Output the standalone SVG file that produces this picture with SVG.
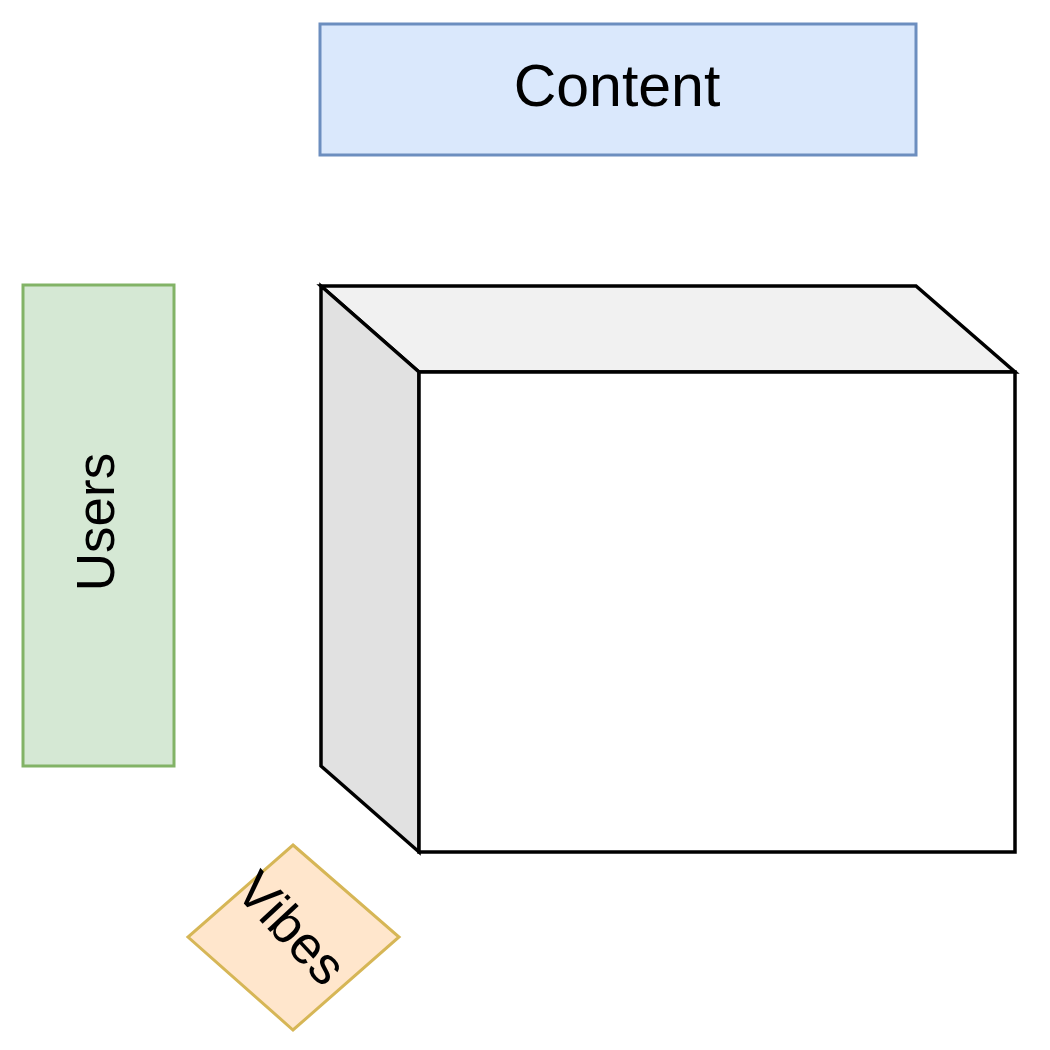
<svg xmlns="http://www.w3.org/2000/svg" width="1050" height="1050" viewBox="0 0 1050 1050">
<style>
text{font-family:"Liberation Sans",Arial,sans-serif;fill:#000;text-anchor:middle;dominant-baseline:central}
.cube{stroke:#000;stroke-width:3.5;stroke-linejoin:miter}
</style>
<rect width="1050" height="1050" fill="#fff"/>
<g id="content">
<rect x="320" y="24" width="596" height="131" fill="#dae8fc" stroke="#6c8ebf" stroke-width="3"/>
<text x="617" y="86" font-size="59">Content</text>
</g>
<g id="users">
<rect x="23" y="285" width="151" height="481" fill="#d5e8d4" stroke="#82b366" stroke-width="3"/>
<text x="0" y="0" font-size="53" transform="translate(95,522) rotate(-90)">Users</text>
</g>
<g id="cube">
<polygon class="cube" points="321,286 916,286 1015,372 419,372" fill="#f1f1f1"/>
<polygon class="cube" points="321,286 419,372 419,852 321,766" fill="#e1e1e1"/>
<rect class="cube" x="419" y="372" width="596" height="480" fill="#fff"/>
</g>
<g id="vibes">
<polygon points="293,845 399,937 293,1030 188,937" fill="#ffe6cc" stroke="#d6b656" stroke-width="3"/>
<text x="0" y="0" font-size="53" transform="translate(292,928) rotate(47)">Vibes</text>
</g>
<g id="connectors"/>
</svg>
